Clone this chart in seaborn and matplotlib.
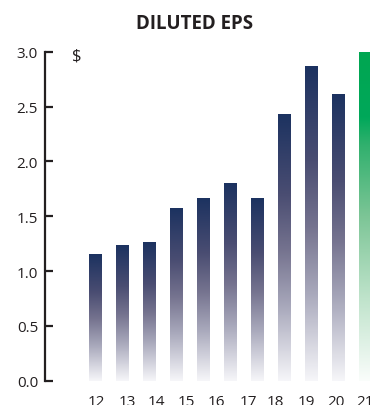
import numpy as np
import pandas as pd
import matplotlib
matplotlib.use("Agg")
import matplotlib.pyplot as plt
from matplotlib.colors import LinearSegmentedColormap
import seaborn as sns

# ---- data ----
bar_ids = [str(i) for i in range(11)]
eps_values = [1.15, 1.24, 1.26, 1.57, 1.66, 1.80, 1.66, 2.43, 2.87, 2.61, 3.01]
bar_kind = ["past"] * 10 + ["latest"]
year_labels = ["12", "13", "14", "15", "16", "17", "18", "19", "20", "21"]
label_slots = [0.04, 1.17, 2.27, 3.38, 4.46, 5.66, 6.65, 7.82, 8.91, 9.98]
y_ticks = [0.0, 0.5, 1.0, 1.5, 2.0, 2.5, 3.0]
title_text = "DILUTED EPS"
unit_text = "$"

# ---- style ----
sns.set_theme(style="white")
plt.rcParams["font.family"] = ["Open Sans", "DejaVu Sans"]
ink = "#231f20"

cmaps = {
    "past": LinearSegmentedColormap.from_list(
        "navy",
        [(0.0, "#f6f6f9"), (0.12, "#d5d5df"), (0.28, "#a8a8bb"),
         (0.49, "#75738f"), (0.70, "#4a4d72"), (1.0, "#1c3260")]),
    "latest": LinearSegmentedColormap.from_list(
        "green",
        [(0.0, "#fafdfb"), (0.25, "#bfe3cb"), (0.5, "#7cc596"),
         (0.72, "#2fb06d"), (0.8, "#00a85a"), (1.0, "#00a651")]),
}

W, H = 370, 406
fig = plt.figure(figsize=(W / 100, H / 100), dpi=100)
ax_left, ax_bottom_px, ax_top_px = 45, 381.7, 52.7
ax = fig.add_axes([ax_left / W, (H - ax_bottom_px) / H,
                   1 - ax_left / W, (ax_bottom_px - ax_top_px) / H])

df = pd.DataFrame({"bar": bar_ids, "eps": eps_values, "kind": bar_kind})
sns.barplot(data=df, x="bar", y="eps", order=bar_ids, width=0.48,
            color="#1c3260", saturation=1, errorbar=None, ax=ax)

grad = np.linspace(0, 1, 256).reshape(-1, 1)
for patch, kind in zip(ax.patches, bar_kind):
    x0, w, h = patch.get_x(), patch.get_width(), patch.get_height()
    ax.imshow(grad, extent=[x0, x0 + w, 0, h], origin="lower",
              aspect="auto", cmap=cmaps[kind], interpolation="bilinear",
              zorder=2)
    patch.set_facecolor("none")
    patch.set_edgecolor("none")

ax.set_xlim(-1.87, 10.167)
ax.set_ylim(0, 3.0)

sns.despine(ax=ax, bottom=True)
ax.spines["left"].set_color(ink)
ax.spines["left"].set_linewidth(1.6)
ax.spines["left"].set_zorder(10)

ax.set_yticks(y_ticks, [f"{v:.1f}" for v in y_ticks])
ax.tick_params(axis="y", left=True, direction="in", length=6, width=1.6,
               color=ink, pad=5, labelsize=11, labelcolor=ink)
ax.set_xticks(label_slots, year_labels)
ax.tick_params(axis="x", bottom=True, length=0, pad=9.5, labelsize=11,
               labelcolor=ink)
ax.set_xlabel("")
ax.set_ylabel("")
ax.grid(False)

fig.text(194.5 / W, 1 - 24 / H, title_text, ha="center", va="center",
         fontsize=13.5, fontweight="bold", color=ink)
fig.text(76.5 / W, 1 - 57 / H, unit_text, ha="center", va="center",
         fontsize=12, color=ink)

fig.savefig("out.png", dpi=100)
